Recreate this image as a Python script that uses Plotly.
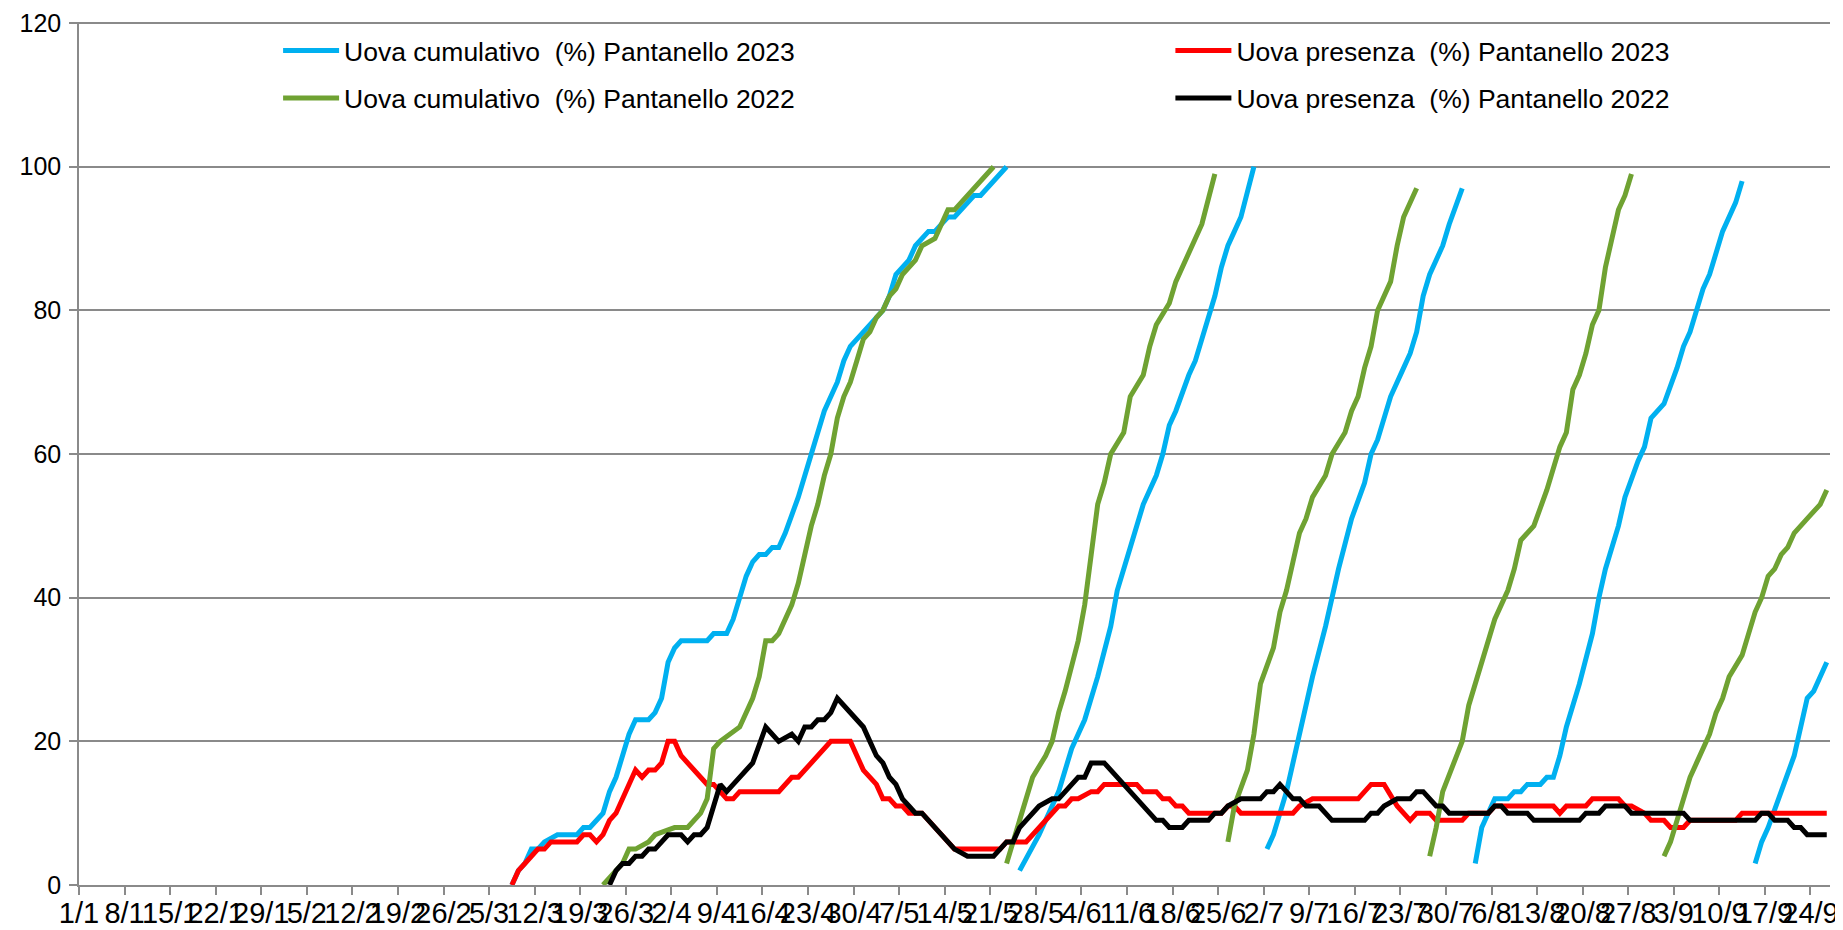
import plotly.graph_objects as go

# x = day of year (0 = 1 Jan); None separates generations
tick_labels = ["1/1","8/1","15/1","22/1","29/1","5/2","12/2","19/2","26/2","5/3","12/3","19/3",
               "26/3","2/4","9/4","16/4","23/4","30/4","7/5","14/5","21/5","28/5","4/6","11/6",
               "18/6","25/6","2/7","9/7","16/7","23/7","30/7","6/8","13/8","20/8","27/8","3/9",
               "10/9","17/9","24/9"]

blue_day = [66,67,68,69,70,71,73,76,77,78,80,81,82,84,85,87,88,89,90,91,92,96,97,99,100,102,103,104,105,106,107,108,110,112,114,116,117,118,120,121,123,124,125,127,128,130,131,132,133,134,137,138,142,
            None,
            144,147,150,152,154,156,158,159,161,162,163,165,166,167,168,170,171,172,174,175,176,177,178,180,
            None,
            182,183,185,187,188,189,191,192,193,195,197,198,199,200,201,203,204,205,206,207,209,210,212,
            None,
            214,215,217,219,220,221,222,224,225,226,227,228,230,232,233,234,236,237,239,240,241,243,245,246,247,249,250,252,254,255,
            None,
            257,258,259,261,263,265,266,268]
blue_val = [0,2,3,5,5,6,7,7,8,8,10,13,15,21,23,23,24,26,31,33,34,34,35,35,37,43,45,46,46,47,47,49,54,60,66,70,73,75,77,78,80,82,85,87,89,91,91,92,93,93,96,96,100,
            None,
            2,7,13,19,23,29,36,41,47,50,53,57,60,64,66,71,73,76,82,86,89,91,93,100,
            None,
            5,7,13,21,25,29,36,40,44,51,56,60,62,65,68,72,74,77,82,85,89,92,97,
            None,
            3,8,12,12,13,13,14,14,15,15,18,22,28,35,40,44,50,54,59,61,65,67,72,75,77,83,85,91,95,98,
            None,
            3,6,8,13,18,26,27,31]

red_day = [66,67,68,70,71,72,76,77,78,79,80,81,82,85,86,87,88,89,90,91,92,96,97,99,100,101,107,109,110,115,118,120,122,123,124,125,126,127,129,134,141,142,145,149,150,151,152,153,155,156,157,162,163,165,166,167,168,169,170,175,176,177,178,186,187,189,190,196,198,200,202,204,205,207,208,212,213,216,217,226,227,228,231,232,236,237,238,240,241,243,244,246,247,254,255,268]
red_val = [0,2,3,5,5,6,6,7,7,6,7,9,10,16,15,16,16,17,20,20,18,14,14,12,12,13,13,15,15,20,20,16,14,12,12,11,11,10,10,5,5,6,6,10,11,11,12,12,13,13,14,14,13,13,12,12,11,11,10,10,11,11,10,10,11,12,12,12,14,14,11,9,10,10,9,9,10,10,11,11,10,11,11,12,12,11,11,10,9,9,8,8,9,9,10,10]

green_day = [80,81,83,84,85,87,88,91,93,95,96,97,98,101,103,104,105,106,107,109,110,111,112,113,114,115,116,117,118,119,120,121,122,123,124,125,126,128,129,131,132,133,134,136,140,
             None,
             142,144,146,148,149,150,151,153,154,155,156,157,158,160,161,163,164,165,167,168,169,171,172,174,
             None,
             176,177,179,180,181,183,184,185,186,187,188,189,191,192,194,195,196,197,198,199,201,202,203,205,
             None,
             207,208,209,212,213,215,217,219,220,221,223,225,226,227,228,229,230,231,232,233,234,235,236,237,238,
             None,
             243,244,245,246,247,248,250,251,252,253,255,256,257,258,259,260,261,262,263,265,267,268]
green_val = [0,1,3,5,5,6,7,8,8,10,12,19,20,22,26,29,34,34,35,39,42,46,50,53,57,60,65,68,70,73,76,77,79,80,82,83,85,87,89,90,92,94,94,96,100,
             None,
             3,9,15,18,20,24,27,34,39,46,53,56,60,63,68,71,75,78,81,84,86,90,92,99,
             None,
             6,11,16,21,28,33,38,41,45,49,51,54,57,60,63,66,68,72,75,80,84,89,93,97,
             None,
             4,8,13,20,25,31,37,41,44,48,50,55,58,61,63,69,71,74,78,80,86,90,94,96,99,
             None,
             4,6,9,12,15,17,21,24,26,29,32,35,38,40,43,44,46,47,49,51,53,55]

black_day = [81,82,83,84,85,86,87,88,90,92,93,94,95,96,98,99,103,105,107,109,110,111,112,113,114,115,116,120,121,122,123,124,125,126,127,128,129,134,136,140,141,142,143,144,145,147,149,150,153,154,155,157,165,166,167,169,170,173,174,175,176,178,181,182,183,184,186,187,188,190,192,197,198,199,200,202,204,205,206,208,209,210,216,217,218,219,222,223,230,231,233,234,237,238,246,247,257,258,259,260,262,263,264,265,268]
black_val = [0,2,3,3,4,4,5,5,7,7,6,7,7,8,14,13,17,22,20,21,20,22,22,23,23,24,26,22,20,18,17,15,14,12,11,10,10,5,4,4,5,6,6,8,9,11,12,12,15,15,17,17,9,9,8,8,9,9,10,10,11,12,12,13,13,14,12,12,11,11,9,9,10,10,11,12,12,13,13,11,11,10,10,11,11,10,10,9,9,10,10,11,11,10,10,9,9,10,10,9,9,8,8,7,7]

series = [
    ("Uova cumulativo  (%) Pantanello 2023", blue_day, blue_val, "#00B0F0", "legend"),
    ("Uova presenza  (%) Pantanello 2023", red_day, red_val, "#FF0000", "legend2"),
    ("Uova cumulativo  (%) Pantanello 2022", green_day, green_val, "#6FA232", "legend"),
    ("Uova presenza  (%) Pantanello 2022", black_day, black_val, "#000000", "legend2"),
]

FONT = "Liberation Sans, Arial, sans-serif"
GRID = "#8A8A8A"

fig = go.Figure()
for i, (name, xs, ys, col, leg) in enumerate(series):
    fig.add_trace(go.Scatter(
        x=xs, y=ys, name=name, mode="lines", connectgaps=False,
        line=dict(color=col, width=5), legend=leg, legendgroup=f"g{i}",
    ))

tick_pos = [7 * k - 0.5 for k in range(len(tick_labels))]

legend_common = dict(
    xanchor="left", yanchor="top",
    font=dict(family=FONT, size=26.5, color="#000000"), bgcolor="rgba(0,0,0,0)",
    borderwidth=0, traceorder="grouped", tracegroupgap=10, itemwidth=56,
)

fig.update_layout(
    width=1843, height=930,
    margin=dict(l=71, r=21, t=14, b=53, autoexpand=False),
    paper_bgcolor="white", plot_bgcolor="white",
    font=dict(family=FONT, size=24, color="#000000"),
    showlegend=True,
    legend=dict(x=0.1137, y=0.9945, **legend_common),
    legend2=dict(x=0.6233, y=0.9945, **legend_common),
    xaxis=dict(
        range=[-0.5, 268.5], tickmode="array", tickvals=tick_pos, ticktext=tick_labels,
        tickangle=0, showgrid=False, zeroline=False, showline=True, linecolor=GRID, linewidth=1.5,
        ticks="outside", ticklen=8, tickcolor=GRID, tickwidth=1.5, automargin=False,
        ticklabelstandoff=-7, ticklabeloverflow="allow",
        tickfont=dict(family=FONT, size=29, color="#000000"),
    ),
    yaxis=dict(
        range=[0, 120.15], tickmode="array", tickvals=[0, 20, 40, 60, 80, 100, 120],
        showgrid=True, gridcolor=GRID, gridwidth=1.5,
        zeroline=False, showline=True, linecolor=GRID, linewidth=1.5, automargin=False,
        ticks="outside", ticklen=8, tickcolor=GRID, tickwidth=1.5, ticklabelstandoff=3,
        ticklabeloverflow="allow",
        tickfont=dict(family=FONT, size=25, color="#000000"),
    ),
)

fig.write_html("out.html")
